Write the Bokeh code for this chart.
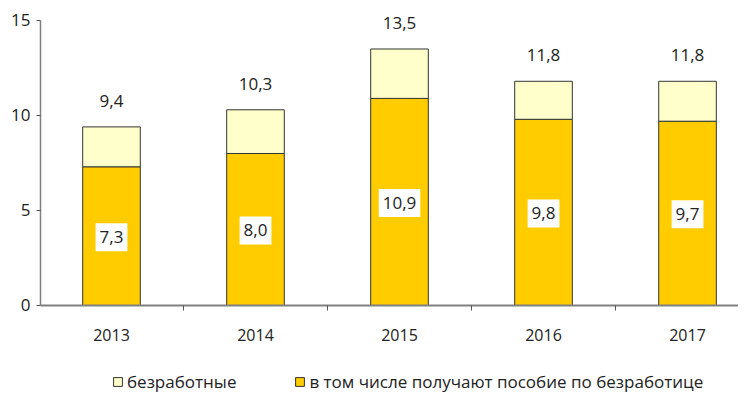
from bokeh.plotting import figure
from bokeh.models import ColumnDataSource, FixedTicker, Legend, LegendItem, Range1d
from bokeh.core.properties import value
from bokeh.embed import file_html
from bokeh.resources import INLINE

years = ["2013", "2014", "2015", "2016", "2017"]
unemployed = [9.4, 10.3, 13.5, 11.8, 11.8]
benefit = [7.3, 8.0, 10.9, 9.8, 9.7]
y_ticks = [0, 5, 10, 15]

FONT = "Open Sans"
TXT = "#222222"

xs = list(range(len(years)))
src = ColumnDataSource(dict(
    x=xs, benefit=benefit, unemployed=unemployed,
    mid=[b / 2 for b in benefit],
    tot_lbl=[f"{v:.1f}".replace(".", ",") for v in unemployed],
    ben_lbl=[f"{v:.1f}".replace(".", ",") for v in benefit],
))

p = figure(width=738, height=395, output_backend="svg", toolbar_location=None,
           x_range=Range1d(-0.493, 4.354), y_range=Range1d(-4.737, 15.526),
           min_border_left=40, min_border_top=10, min_border_right=0,
           min_border_bottom=0)
p.outline_line_color = None
p.grid.grid_line_color = None
p.background_fill_color = None
p.border_fill_color = None

r_ben = p.vbar(x="x", width=0.4, bottom=0, top="benefit", source=src,
               fill_color="#FFCC00", line_color="#333333", line_width=1)
r_tot = p.vbar(x="x", width=0.4, bottom="benefit", top="unemployed", source=src,
               fill_color="#FFFFCC", line_color="#333333", line_width=1)

p.text(x="x", y="unemployed", text="tot_lbl", source=src, y_offset=-26,
       text_align="center", text_baseline="middle", text_color=TXT,
       text_font=value(FONT), text_font_size="17px")
p.text(x="x", y="mid", text="ben_lbl", source=src, y_offset=1,
       text_align="center", text_baseline="middle", text_color=TXT,
       text_font=value(FONT), text_font_size="17px",
       background_fill_color="white",
       padding=dict(left=4, right=4, top=8, bottom=8))

# x axis drawn at y = 0 inside the frame
xa = p.xaxis[0]
xa.fixed_location = 0
xa.ticker = FixedTicker(ticks=xs, minor_ticks=[i - 0.5 for i in range(len(years) + 1)])
xa.major_label_overrides = {i: y for i, y in enumerate(years)}
xa.major_tick_line_color = None
xa.minor_tick_line_color = "#555555"
xa.minor_tick_in = 0
xa.minor_tick_out = 5
xa.axis_line_color = "#808080"
xa.axis_line_width = 2
xa.major_label_standoff = 18
xa.major_label_text_font = FONT
xa.major_label_text_font_size = "16px"
xa.major_label_text_color = TXT

ya = p.yaxis[0]
ya.ticker = FixedTicker(ticks=y_ticks)
ya.bounds = (0, 15)
ya.minor_tick_line_color = None
ya.major_tick_in = 0
ya.major_tick_out = 4
ya.major_tick_line_color = "#555555"
ya.axis_line_color = "#808080"
ya.axis_line_width = 1.5
ya.major_label_standoff = 6
ya.major_label_text_font = FONT
ya.major_label_text_font_size = "17px"
ya.major_label_text_color = TXT

legend = Legend(items=[LegendItem(label="безработные", renderers=[r_tot]),
                       LegendItem(label="в том числе получают пособие по безработице", renderers=[r_ben])],
                orientation="horizontal", location=(72, 2),
                glyph_width=11, glyph_height=11, label_standoff=4, spacing=58,
                padding=0, margin=0, border_line_color=None,
                background_fill_color=None,
                label_text_font=FONT, label_text_font_size="17px",
                label_text_color=TXT, label_height=18)
p.add_layout(legend, "center")

open("out.html", "w").write(file_html(p, INLINE))
